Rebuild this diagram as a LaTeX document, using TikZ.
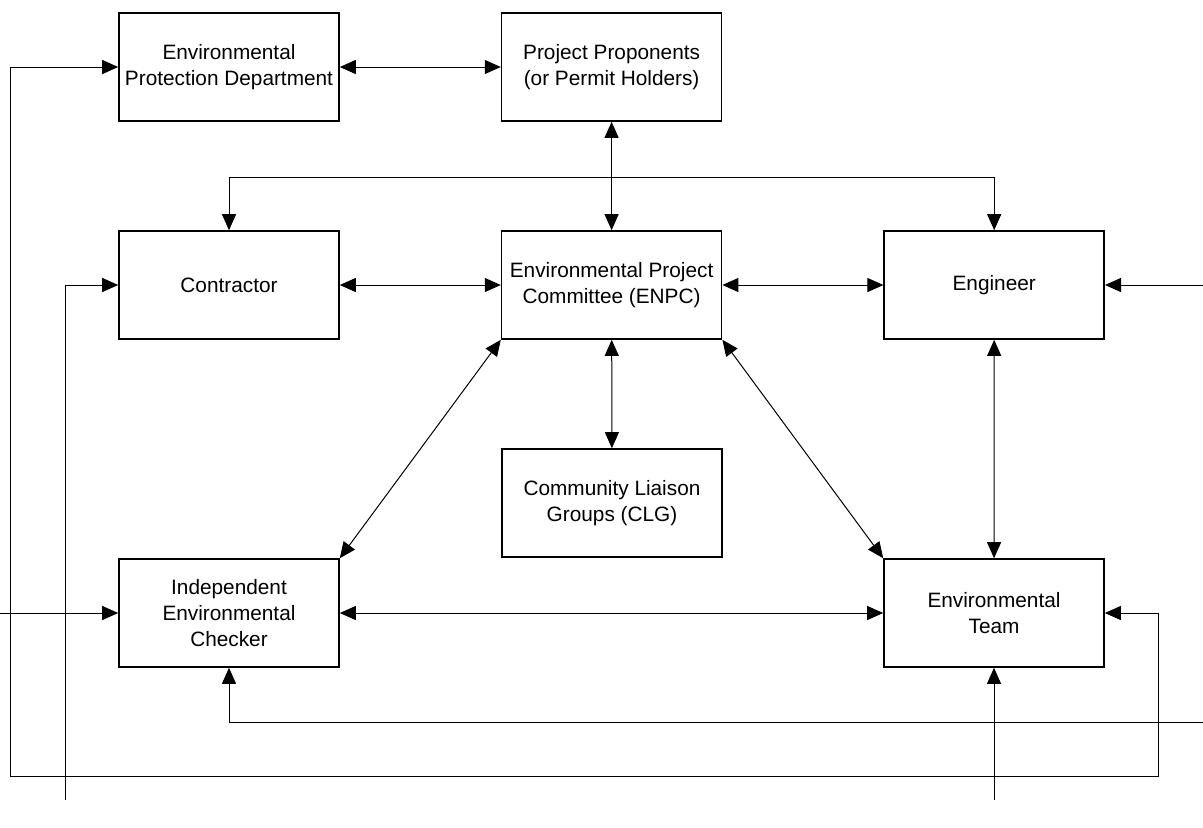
\documentclass[tikz,border=0pt]{standalone}
\usepackage{fontspec}
\setmainfont{Liberation Sans}
\usepackage{tikz}
\usetikzlibrary{positioning}
\usetikzlibrary{arrows.meta, calc}

\begin{document}
\begin{tikzpicture}[x=0.5pt,y=-0.5pt,>={Triangle[length=8pt,width=7pt]},
  party/.style={draw,rectangle,line width=0.8pt,minimum width=110pt,inner xsep=0pt,minimum height=54pt,
    align=center,font=\fontsize{10.4}{13}\selectfont},
  link/.style={line width=0.5pt},
  node distance=55pt and 80.5pt]
\useasboundingbox (0,0) rectangle (1203,827);

% the boxes
\node[party] (epd) at (229,67) {Environmental\\Protection Department};
\node[party,right=of epd] (pp) {Project Proponents\\(or Permit Holders)};
\node[party] (con) at (229,285) {Contractor};
\node[party,right=of con] (enpc) {Environmental Project\\Committee (ENPC)};
\node[party,right=of enpc] (eng) {Engineer};
\node[party] (clg) at (612,503) {Community Liaison\\Groups (CLG)};
\node[party] (iec) at (229,613) {Independent\\Environmental\\Checker};
\node[party] (et) at (994,613) {Environmental\\Team};

% the free ends
\coordinate (split) at (612,177);
\coordinate (lpt) at (10,776);
\coordinate (rpt) at (1158,776);
\coordinate (iecin) at (0,613);
\coordinate (conin) at (65,800);
\coordinate (engin) at (1203,285);
\coordinate (iecbot) at (1203,722);
\coordinate (etin) at (994,800);

% the arrows
\draw[link,<->] (epd) -- (pp);
\draw[link,<->] (pp) -- (enpc);
\draw[link,->] (split) -| (con.north);
\draw[link,->] (split) -| (eng.north);
\draw[link,<->] (con) -- (enpc);
\draw[link,<->] (enpc) -- (eng);
\draw[link,->] (engin) -- (eng.east);
\draw[link,<->] (enpc) -- (clg);
\draw[link,<->] (enpc.south west) -- (iec.north east);
\draw[link,<->] (enpc.south east) -- (et.north west);
\draw[link,<->] (eng) -- (et);
\draw[link,<->] (iec) -- (et);
\draw[link,<->] (epd.west) -- (epd.west -| lpt) -- (lpt) -- (rpt) |- (et.east);
\draw[link,->] (iecin) -- (iec.west);
\draw[link,->] (conin) |- (con.west);
\draw[link,->] (iecbot) -| (iec.south);
\draw[link,->] (etin) -- (et.south);
\end{tikzpicture}
\end{document}
